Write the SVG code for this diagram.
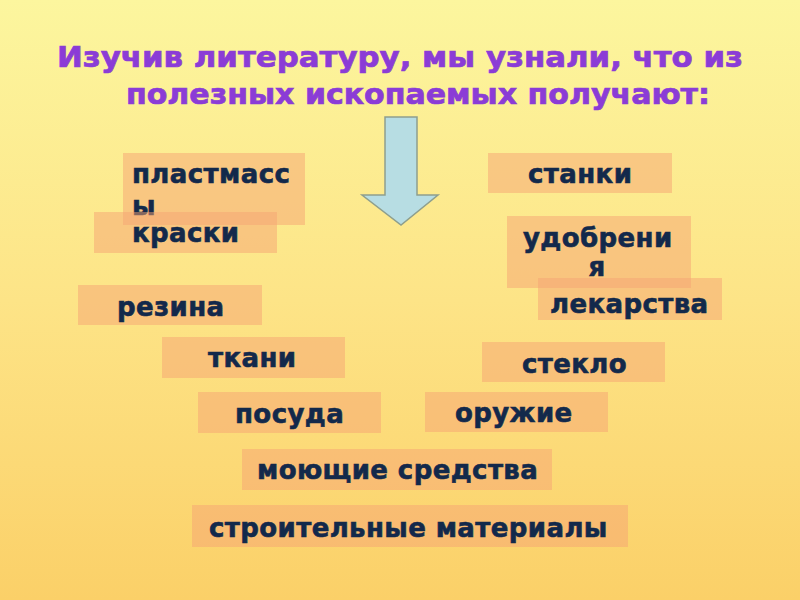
<svg xmlns="http://www.w3.org/2000/svg" width="800" height="600" viewBox="0 0 800 600">
<defs>
<linearGradient id="bg" x1="0" y1="0" x2="0" y2="1">
<stop offset="0" stop-color="#fcf69e"/>
<stop offset="0.5" stop-color="#fde487"/>
<stop offset="1" stop-color="#fbd068"/>
</linearGradient>
</defs>
<style>
.title{font-family:"DejaVu Sans",Verdana,sans-serif;font-weight:bold;font-size:28px;fill:#8b3cd6;stroke:#8b3cd6;stroke-width:0.7}
.box{fill:#f5a474;fill-opacity:0.5}
.lbl{font-family:"DejaVu Sans",Verdana,sans-serif;font-weight:bold;font-size:26px;letter-spacing:0.4px;fill:#13294b;stroke:#13294b;stroke-width:0.6}
</style>
<rect width="800" height="600" fill="url(#bg)"/>
<text class="title" x="57" y="67" textLength="686" lengthAdjust="spacingAndGlyphs">Изучив литературу, мы узнали, что из</text>
<text class="title" x="126" y="104" textLength="584" lengthAdjust="spacingAndGlyphs">полезных ископаемых получают:</text>
<g id="arrow">
<path d="M385,117 H417 V195 H438 L401,225 L362,195 H385 Z" fill="#b7dde3" stroke="#8e9f8e" stroke-width="1.5"/>
</g>
<g id="n-plastmassy"><rect class="box" x="123" y="153" width="182" height="72"/><text class="lbl" x="132" y="183">пластмасс</text><text class="lbl" x="132" y="215">ы</text></g>
<g id="n-kraski"><rect class="box" x="94" y="212" width="183" height="41"/><text class="lbl" x="132" y="242">краски</text></g>
<g id="n-stanki"><rect class="box" x="488" y="153" width="184" height="40"/><text class="lbl" x="528" y="183">станки</text></g>
<g id="n-udobreniya"><rect class="box" x="507" y="216" width="184" height="72"/><text class="lbl" x="523" y="247">удобрени</text><text class="lbl" x="597" y="276" text-anchor="middle">я</text></g>
<g id="n-lekarstva"><rect class="box" x="538" y="278" width="184" height="42"/><text class="lbl" x="550" y="313">лекарства</text></g>
<g id="n-rezina"><rect class="box" x="78" y="285" width="184" height="40"/><text class="lbl" x="117" y="316">резина</text></g>
<g id="n-tkani"><rect class="box" x="162" y="337" width="183" height="41"/><text class="lbl" x="208" y="367">ткани</text></g>
<g id="n-steklo"><rect class="box" x="482" y="342" width="183" height="40"/><text class="lbl" x="522" y="373">стекло</text></g>
<g id="n-posuda"><rect class="box" x="198" y="392" width="183" height="41"/><text class="lbl" x="235" y="423">посуда</text></g>
<g id="n-oruzhie"><rect class="box" x="425" y="392" width="183" height="40"/><text class="lbl" x="455" y="422">оружие</text></g>
<g id="n-moyushchie"><rect class="box" x="242" y="449" width="310" height="41"/><text class="lbl" x="257" y="479">моющие средства</text></g>
<g id="n-stroitelnye"><rect class="box" x="192" y="505" width="436" height="42"/><text class="lbl" x="209" y="537">строительные материалы</text></g>
<g id="connectors"/>
</svg>
